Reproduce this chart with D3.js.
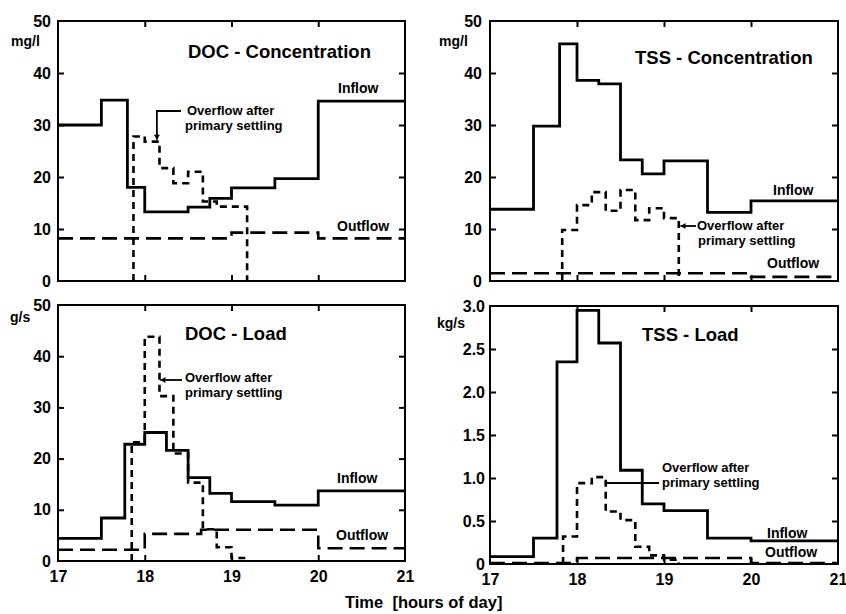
<!DOCTYPE html>
<html><head><meta charset="utf-8">
<script src="https://cdn.jsdelivr.net/npm/d3@7"></script>
<style>
body{margin:0;background:#fff}
svg{display:block}
text{font-family:"Liberation Sans",Arial,Helvetica,sans-serif;fill:#000;font-weight:bold}
</style>
</head><body><svg id="c" width="846" height="614"></svg>
<script>
// ---------------- data ----------------
const hourTicks = [17, 18, 19, 20, 21];
const innerHourTicks = [18, 19, 20];
const concTicks = [0, 10, 20, 30, 40, 50];
const docLoadTicks = [0, 10, 20, 30, 40, 50];
const tssLoadTicks = [0, 0.5, 1.0, 1.5, 2.0, 2.5, 3.0];

// DOC concentration (mg/l)
const docConcInflowT = [17, 17.5, 17.8, 18, 18.5, 18.75, 19, 19.5, 20, 21];
const docConcInflowV = [30, 34.8, 18, 13.3, 14.2, 15.9, 17.9, 19.7, 34.6];
const docConcOverT = [17.87, 18, 18.17, 18.33, 18.5, 18.67, 18.83, 19, 19.18];
const docConcOverV = [27.8, 26.8, 21.7, 18.8, 21.0, 15.3, 14.3, 14.3];
const docConcOutT = [17, 19, 20, 21];
const docConcOutV = [8.2, 9.3, 8.2];

// TSS concentration (mg/l)
const tssConcInflowT = [17, 17.5, 17.8, 18, 18.25, 18.5, 18.75, 19, 19.5, 20, 21];
const tssConcInflowV = [13.8, 29.8, 45.6, 38.6, 37.9, 23.3, 20.6, 23.1, 13.2, 15.4];
const tssConcOverT = [17.83, 18, 18.17, 18.33, 18.5, 18.67, 18.83, 19, 19.17];
const tssConcOverV = [9.8, 14.6, 17.1, 13.5, 17.5, 11.7, 14.0, 12.1];
const tssConcOutT = [17, 20, 21];
const tssConcOutV = [1.5, 0.8];

// DOC load (g/s)
const docLoadInflowT = [17, 17.5, 17.77, 18, 18.25, 18.5, 18.75, 19, 19.5, 20, 21];
const docLoadInflowV = [4.4, 8.4, 22.8, 25.1, 21.6, 16.3, 13.2, 11.6, 10.9, 13.7];
const docLoadOverT = [17.85, 18, 18.17, 18.33, 18.5, 18.67, 18.83, 19, 19.17];
const docLoadOverV = [23.2, 43.8, 32.2, 21.0, 15.3, 6.2, 2.7, 0.6];
const docLoadOutT = [17, 18, 18.65, 20, 21];
const docLoadOutV = [2.2, 5.3, 6.1, 2.5];

// TSS load (kg/s)
const tssLoadInflowT = [17, 17.5, 17.77, 18, 18.25, 18.5, 18.75, 19, 19.5, 20, 21];
const tssLoadInflowV = [0.085, 0.30, 2.35, 2.95, 2.57, 1.09, 0.70, 0.62, 0.30, 0.27];
const tssLoadOverT = [17.84, 18, 18.17, 18.33, 18.5, 18.67, 18.83, 19, 19.17];
const tssLoadOverV = [0.32, 0.94, 1.01, 0.61, 0.51, 0.20, 0.10, 0.05];
const tssLoadOutT = [17, 18, 20, 21];
const tssLoadOutV = [0.012, 0.07, 0.012];

// ---------------- drawing ----------------
const svg = d3.select("#c");
svg.append("rect").attr("width", 846).attr("height", 614).attr("fill", "#fff");

function stepPts(T, V, closeZero) {
  const p = [];
  if (closeZero) p.push([T[0], 0]);
  V.forEach((v, i) => p.push([T[i], v]));
  p.push([T[T.length - 1], closeZero ? 0 : V[V.length - 1]]);
  return p;
}

const panels = [
  {id: "p1", box: [58, 405, 21, 281], yMax: 50, yTicks: concTicks, fmt: d3.format("d"),
   unit: "mg/l", unitPos: [11, 46], pad: 7, xLabels: false,
   title: "DOC - Concentration", titlePos: [188, 58],
   inflow: [docConcInflowT, docConcInflowV], over: [docConcOverT, docConcOverV], out: [docConcOutT, docConcOutV],
   inflowLbl: [338, 93], outflowLbl: [337, 231], overLbl: [187, 115, 185, 130]},
  {id: "p2", box: [490, 838, 21, 281], yMax: 50, yTicks: concTicks, fmt: d3.format("d"),
   unit: "mg/l", unitPos: [439, 46], pad: 8, xLabels: false,
   title: "TSS - Concentration", titlePos: [635, 64],
   inflow: [tssConcInflowT, tssConcInflowV], over: [tssConcOverT, tssConcOverV], out: [tssConcOutT, tssConcOutV],
   inflowLbl: [773, 195], outflowLbl: [767, 268], overLbl: [697, 230, 698, 245]},
  {id: "p3", box: [58, 405, 305, 561], yMax: 50, yTicks: docLoadTicks, fmt: d3.format("d"),
   unit: "g/s", unitPos: [10, 322], pad: 7, xLabels: true,
   title: "DOC - Load", titlePos: [185, 340],
   inflow: [docLoadInflowT, docLoadInflowV], over: [docLoadOverT, docLoadOverV], out: [docLoadOutT, docLoadOutV],
   inflowLbl: [337, 483], outflowLbl: [336, 540], overLbl: [185, 382, 185, 397]},
  {id: "p4", box: [490, 838, 306, 564], yMax: 3, yTicks: tssLoadTicks, fmt: d => d === 0 ? "0" : d3.format(".1f")(d),
   unit: "kg/s", unitPos: [437, 328], pad: 5, xLabels: true,
   title: "TSS - Load", titlePos: [642, 341],
   inflow: [tssLoadInflowT, tssLoadInflowV], over: [tssLoadOverT, tssLoadOverV], out: [tssLoadOutT, tssLoadOutV],
   inflowLbl: [767, 538], outflowLbl: [765, 557], overLbl: [662, 472, 662, 487]}
];

panels.forEach(P => {
  const [l, r, t, b] = P.box;
  const x = d3.scaleLinear().domain([17, 21]).range([l, r]);
  const y = d3.scaleLinear().domain([0, P.yMax]).range([b, t]);
  P.x = x; P.y = y;
  const g = svg.append("g");

  g.append("clipPath").attr("id", "clip-" + P.id)
    .append("rect").attr("x", l).attr("y", t - 1).attr("width", r - l).attr("height", b - t + 1);

  const line = d3.line().x(d => x(d[0])).y(d => y(d[1])).curve(d3.curveStepAfter);
  const data = g.append("g").attr("clip-path", `url(#clip-${P.id})`);

  data.append("path").attr("d", line(stepPts(P.out[0], P.out[1], false)))
    .attr("fill", "none").attr("stroke", "#000").attr("stroke-width", 2.6)
    .attr("stroke-dasharray", "15,7");
  data.append("path").attr("d", line(stepPts(P.over[0], P.over[1], true)))
    .attr("fill", "none").attr("stroke", "#000").attr("stroke-width", 2.6)
    .attr("stroke-dasharray", "7,5");
  data.append("path").attr("d", line(stepPts(P.inflow[0], P.inflow[1], false)))
    .attr("fill", "none").attr("stroke", "#000").attr("stroke-width", 2.8)
    .attr("stroke-linejoin", "miter");

  // axes (ticks inward)
  const yAx = d3.axisLeft(y).tickValues(P.yTicks).tickFormat(P.fmt).tickSize(-6).tickPadding(P.pad);
  const ga = g.append("g").attr("transform", `translate(${l},0)`).call(yAx);
  ga.select(".domain").remove();
  ga.selectAll(".tick line").attr("stroke", "#000").attr("stroke-width", 2)
    .filter(d => d === 0 || d === P.yMax).remove();
  ga.selectAll(".tick text").attr("font-size", 16).attr("font-weight", "bold")
    .attr("font-family", '"Liberation Sans",Arial,sans-serif').attr("fill", "#000");

  const yR = d3.axisRight(y).tickValues(P.yTicks.slice(1, -1)).tickFormat("").tickSize(-6);
  const gr = g.append("g").attr("transform", `translate(${r},0)`).call(yR);
  gr.select(".domain").remove();
  gr.selectAll(".tick line").attr("stroke", "#000").attr("stroke-width", 2);

  const xT = d3.axisTop(x).tickValues(innerHourTicks).tickFormat("").tickSize(-6);
  const gt = g.append("g").attr("transform", `translate(0,${t})`).call(xT);
  gt.select(".domain").remove();
  gt.selectAll(".tick line").attr("stroke", "#000").attr("stroke-width", 2);

  const xB = d3.axisBottom(x).tickValues(innerHourTicks).tickFormat("").tickSize(-6);
  const gb = g.append("g").attr("transform", `translate(0,${b})`).call(xB);
  gb.select(".domain").remove();
  gb.selectAll(".tick line").attr("stroke", "#000").attr("stroke-width", 2);

  if (P.xLabels) {
    const xL = d3.axisBottom(x).tickValues(hourTicks).tickFormat(d3.format("d")).tickSize(0).tickPadding(10);
    const gl = g.append("g").attr("transform", `translate(0,${b})`).call(xL);
    gl.select(".domain").remove();
    gl.selectAll(".tick text").attr("font-size", 16).attr("font-weight", "bold")
      .attr("font-family", '"Liberation Sans",Arial,sans-serif').attr("fill", "#000");
  }

  // frame
  g.append("rect").attr("x", l).attr("y", t).attr("width", r - l).attr("height", b - t)
    .attr("fill", "none").attr("stroke", "#000").attr("stroke-width", 2);

  // texts
  g.append("text").attr("x", P.unitPos[0]).attr("y", P.unitPos[1]).attr("font-size", 14).text(P.unit);
  g.append("text").attr("x", P.titlePos[0]).attr("y", P.titlePos[1]).attr("font-size", 18.5).text(P.title);
  g.append("text").attr("x", P.inflowLbl[0]).attr("y", P.inflowLbl[1]).attr("font-size", 14).text("Inflow");
  g.append("text").attr("x", P.outflowLbl[0]).attr("y", P.outflowLbl[1]).attr("font-size", 14).text("Outflow");
  g.append("text").attr("x", P.overLbl[0]).attr("y", P.overLbl[1]).attr("font-size", 13).text("Overflow after");
  g.append("text").attr("x", P.overLbl[2]).attr("y", P.overLbl[3]).attr("font-size", 13).text("primary settling");
});

// leader lines for "Overflow after primary settling"
const L = svg.append("g").attr("fill", "none").attr("stroke", "#000").attr("stroke-width", 1.8);
function arrowHead(px, py, dir) {
  const s = 5;
  let pts;
  if (dir === "left") pts = [[px, py], [px + s, py - 3], [px + s, py + 3]];
  else pts = [[px, py], [px - 3, py - s], [px + 3, py - s]];
  svg.append("path").attr("d", "M" + pts.map(p => p.join(",")).join("L") + "Z").attr("fill", "#000");
}
{
  const P = panels[0];
  const ax = P.x(18.14), ty = 111, by = P.y(26.8) - 2;
  L.append("path").attr("d", `M181,${ty}H${ax}V${by}`);
  arrowHead(ax, by, "down");
}
{
  const P = panels[1];
  const ax = P.x(19.19), yy = 226;
  L.append("path").attr("d", `M696,${yy}H${ax}`);
  arrowHead(ax, yy, "left");
}
{
  const P = panels[2];
  const ax = P.x(18.18), yy = 380;
  L.append("path").attr("d", `M182,${yy}H${ax}`);
  arrowHead(ax, yy, "left");
}
{
  const P = panels[3];
  const ax = P.x(18.33), yy = 483;
  L.append("path").attr("d", `M${ax},${yy}H659`);
}

svg.append("text").attr("x", 345).attr("y", 608).attr("font-size", 16.5)
  .attr("xml:space", "preserve").style("white-space", "pre").text("Time  [hours of day]");
</script>
</body></html>
